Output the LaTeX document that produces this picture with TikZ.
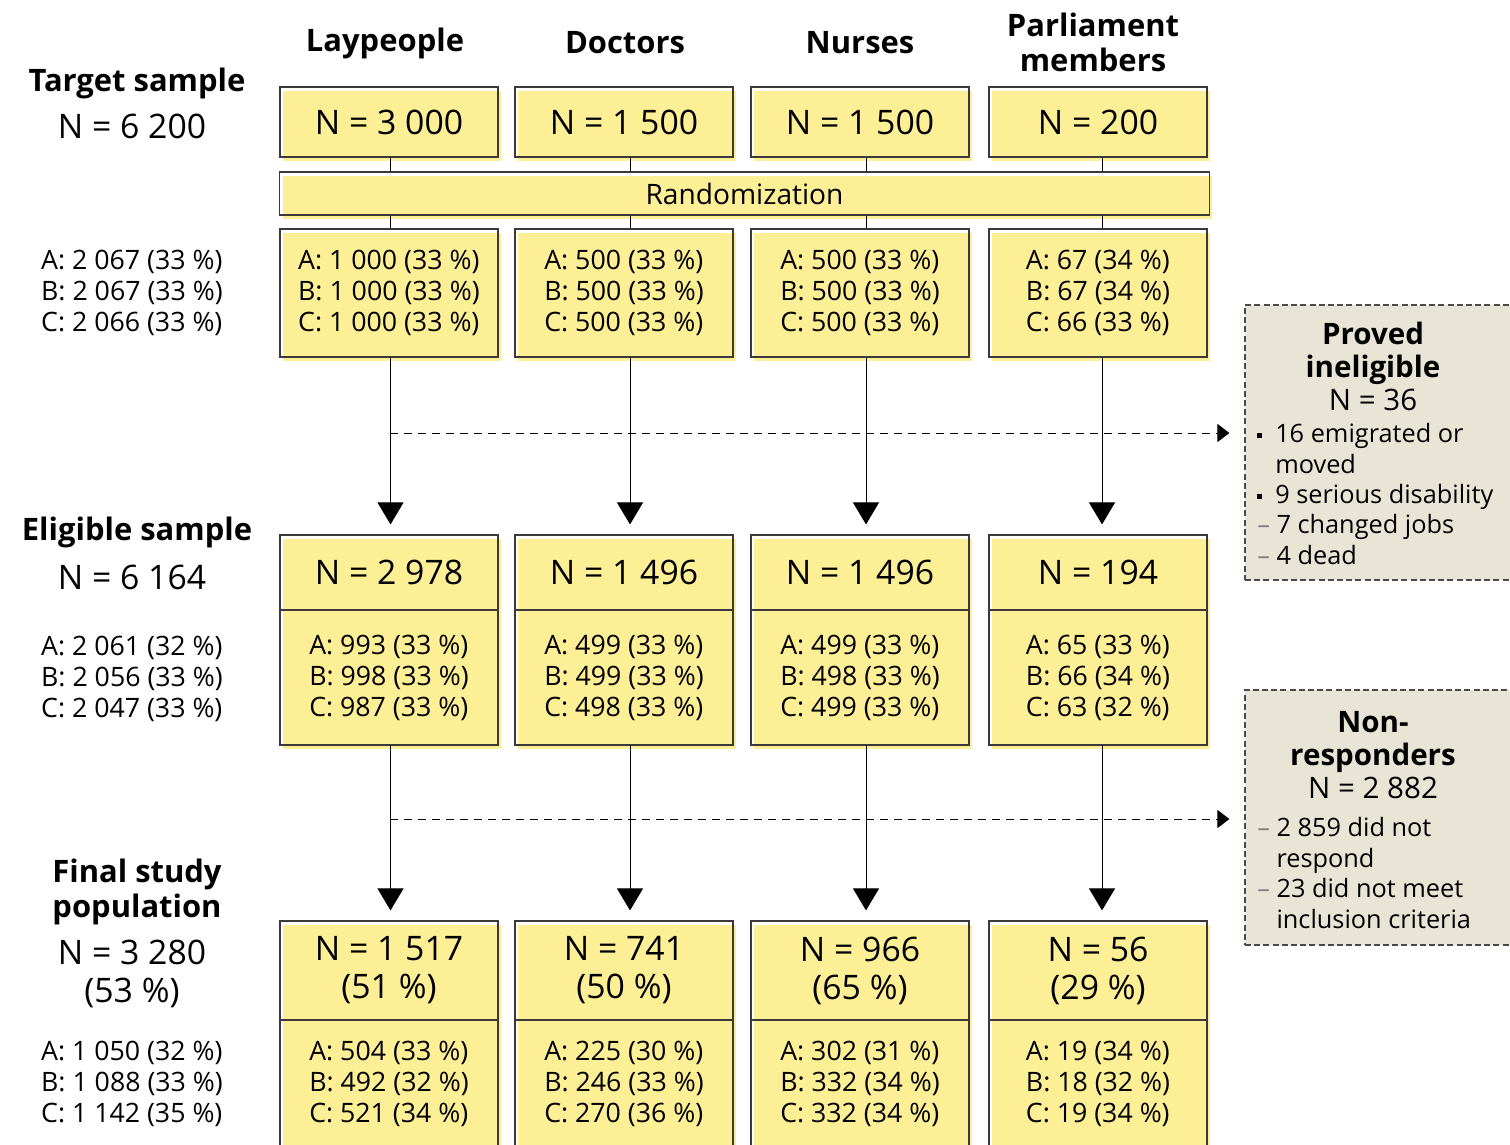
\documentclass[tikz,border=0pt]{standalone}
\usepackage{fontspec}
\setmainfont{Open Sans}
\usetikzlibrary{arrows.meta, positioning, calc, shadows}
\definecolor{boxyellow}{HTML}{FCEF96}
\definecolor{boxline}{HTML}{3A3A3A}
\definecolor{sidefill}{HTML}{E9E5D6}
\definecolor{dashgray}{HTML}{4A4A4A}
\newcommand{\sqbullet}{\raisebox{0.35ex}{\rule{0.12cm}{0.12cm}}}
\newcommand{\thindash}{\textcolor{gray}{–}}

\begin{document}
\begin{tikzpicture}[
    x=0.025cm, y=-0.025cm,
    >={Triangle[length=0.55cm, width=0.65cm]},
    every node/.style={text=black, inner sep=0pt},
    headtext/.style={font=\fontsize{22}{25}\selectfont\bfseries, align=center},
    ntext/.style={font=\fontsize{24}{27}\selectfont, align=center},
    abctext/.style={font=\fontsize{19}{22}\selectfont, align=left},
    ybox/.style={draw=boxline, line width=0.8pt, minimum width=5.45cm,
        general shadow={fill=boxyellow, shadow xshift=0.08cm, shadow yshift=-0.1cm}},
    sidebox/.style={draw=dashgray, fill=sidefill, line width=0.8pt,
        dash pattern=on 0.15cm off 0.08cm, minimum width=6.875cm},
    sidehead/.style={font=\fontsize{21}{23.5}\selectfont, align=center},
    sidelist/.style={font=\fontsize{18}{21.6}\selectfont, align=left, anchor=west},
    flow/.style={->, line width=0.7pt, shorten >=0.25cm},
    drop/.style={-{Triangle[length=0.3cm, width=0.45cm]}, line width=0.7pt,
        dash pattern=on 0.2cm off 0.15cm, shorten >=0.375cm},
  ]

  \useasboundingbox (0,0) rectangle (1510,1144);

  % Column headers
  \node[headtext] (hlay) at (385,43) {Laypeople};
  \node[headtext] (hdoc) at (625,43) {Doctors};
  \node[headtext] (hnur) at (860,43) {Nurses};
  \node[headtext] (hpar) at (1093,42) {Parliament\\members};

  % Left column: totals
  \node[headtext] (ltgt) at (137,83) {Target sample};
  \node[ntext] (ntgt) at (132,126) {N = 6 200};
  \node[abctext] (atgt) at (132,293) {A: 2 067 (33 \%)\\B: 2 067 (33 \%)\\C: 2 066 (33 \%)};

  \node[headtext] (lelg) at (137,532) {Eligible sample};
  \node[ntext] (nelg) at (132,577) {N = 6 164};
  \node[abctext] (aelg) at (132,679) {A: 2 061 (32 \%)\\B: 2 056 (33 \%)\\C: 2 047 (33 \%)};

  \node[headtext] (lfin) at (137,892) {Final study\\population};
  \node[ntext] (nfin) at (132,974) {N = 3 280\\(53 \%)};
  \node[abctext] (afin) at (132,1084) {A: 1 050 (32 \%)\\B: 1 088 (33 \%)\\C: 1 142 (35 \%)};

  % Target sample
  \node[ybox, ntext, minimum height=1.75cm] (tlay) at (389,122) {N = 3 000};
  \node[ybox, ntext, minimum height=1.75cm] (tdoc) at (624,122) {N = 1 500};
  \node[ybox, ntext, minimum height=1.75cm] (tnur) at (860,122) {N = 1 500};
  \node[ybox, ntext, minimum height=1.75cm] (tpar) at (1098,122) {N = 200};

  \node[ybox, minimum width=23.225cm, minimum height=1.075cm,
        font=\fontsize{20}{24}\selectfont] (rand) at (744.5,193.5) {Randomization};

  % Randomized
  \node[ybox, abctext, minimum height=3.2cm] (rlay) at (389,293)
    {A: 1 000 (33 \%)\\B: 1 000 (33 \%)\\C: 1 000 (33 \%)};
  \node[ybox, abctext, minimum height=3.2cm] (rdoc) at (624,293)
    {A: 500 (33 \%)\\B: 500 (33 \%)\\C: 500 (33 \%)};
  \node[ybox, abctext, minimum height=3.2cm] (rnur) at (860,293)
    {A: 500 (33 \%)\\B: 500 (33 \%)\\C: 500 (33 \%)};
  \node[ybox, abctext, minimum height=3.2cm] (rpar) at (1098,293)
    {A: 67 (34 \%)\\B: 67 (34 \%)\\C: 66 (33 \%)};

  % Eligible
  \node[ybox, ntext, minimum height=1.875cm] (elay) at (389,572.5) {N = 2 978};
  \node[ybox, ntext, minimum height=1.875cm] (edoc) at (624,572.5) {N = 1 496};
  \node[ybox, ntext, minimum height=1.875cm] (enur) at (860,572.5) {N = 1 496};
  \node[ybox, ntext, minimum height=1.875cm] (epar) at (1098,572.5) {N = 194};

  \node[ybox, abctext, minimum height=3.375cm] (galay) at (389,677.5)
    {A: 993 (33 \%)\\B: 998 (33 \%)\\C: 987 (33 \%)};
  \node[ybox, abctext, minimum height=3.375cm] (gadoc) at (624,677.5)
    {A: 499 (33 \%)\\B: 499 (33 \%)\\C: 498 (33 \%)};
  \node[ybox, abctext, minimum height=3.375cm] (ganur) at (860,677.5)
    {A: 499 (33 \%)\\B: 498 (33 \%)\\C: 499 (33 \%)};
  \node[ybox, abctext, minimum height=3.375cm] (gapar) at (1098,677.5)
    {A: 65 (33 \%)\\B: 66 (34 \%)\\C: 63 (32 \%)};

  % Final study population
  \node[ybox, ntext, minimum height=2.475cm] (flay) at (389,970.5) {N = 1 517\\(51 \%)};
  \node[ybox, ntext, minimum height=2.475cm] (fdoc) at (624,970.5) {N = 741\\(50 \%)};
  \node[ybox, ntext, minimum height=2.475cm] (fnur) at (860,970.5) {N = 966\\(65 \%)};
  \node[ybox, ntext, minimum height=2.475cm] (fpar) at (1098,970.5) {N = 56\\(29 \%)};

  \node[ybox, abctext, minimum height=3.2cm] (falay) at (389,1084)
    {A: 504 (33 \%)\\B: 492 (32 \%)\\C: 521 (34 \%)};
  \node[ybox, abctext, minimum height=3.2cm] (fadoc) at (624,1084)
    {A: 225 (30 \%)\\B: 246 (33 \%)\\C: 270 (36 \%)};
  \node[ybox, abctext, minimum height=3.2cm] (fanur) at (860,1084)
    {A: 302 (31 \%)\\B: 332 (34 \%)\\C: 332 (34 \%)};
  \node[ybox, abctext, minimum height=3.2cm] (fapar) at (1098,1084)
    {A: 19 (34 \%)\\B: 18 (32 \%)\\C: 19 (34 \%)};

  % Drop-outs
  \node[sidebox, minimum height=6.875cm] (inel) at (1382.5,442.5) {};
  \node[sidehead] (inelhead) at (1373,366)
    {\textbf{Proved}\\\textbf{ineligible}\\N = 36};
  \node[sidelist] (inellist) at (1257,494)
    {\sqbullet\ \ 16 emigrated or\\\hphantom{\sqbullet\ \ }moved\\
     \sqbullet\ \ 9 serious disability\\\thindash\ 7 changed jobs\\\thindash\ 4 dead};

  \node[sidebox, minimum height=6.375cm] (nonr) at (1382.5,817.5) {};
  \node[sidehead] (nonrhead) at (1373,755)
    {\textbf{Non-}\\\textbf{responders}\\N = 2 882};
  \node[sidelist] (nonrlist) at (1257,873)
    {\thindash\ 2 859 did not\\\hphantom{\thindash\ }respond\\
     \thindash\ 23 did not meet\\\hphantom{\thindash\ }inclusion criteria};

  % Connectors (lines sit a little right of the box centres)
  \foreach \c/\d in {lay/1.5,doc/6,nur/6,par/4}{
    \draw[line width=0.7pt] ([xshift=\d*0.025cm]t\c.south)
      -- ([xshift=\d*0.025cm]t\c.south |- rand.north);
    \draw[line width=0.7pt] ([xshift=\d*0.025cm]r\c.north |- rand.south)
      -- ([xshift=\d*0.025cm]r\c.north);
    \draw[flow] ([xshift=\d*0.025cm]r\c.south) -- ([xshift=\d*0.025cm]e\c.north);
    \draw[flow] ([xshift=\d*0.025cm]ga\c.south) -- ([xshift=\d*0.025cm]f\c.north);
  }

  \coordinate (cut1) at (390,433);
  \coordinate (cut2) at (390,819);
  \draw[drop] (cut1) -- (cut1 -| inel.west);
  \draw[drop] (cut2) -- (cut2 -| nonr.west);

\end{tikzpicture}
\end{document}
